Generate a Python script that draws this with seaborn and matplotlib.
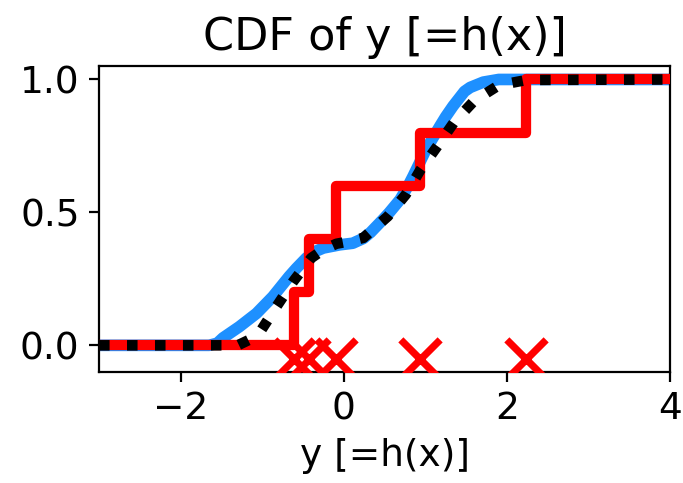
import matplotlib
matplotlib.use("Agg")
import matplotlib.pyplot as plt
import seaborn as sns

# Smooth CDF (blue)
blue_x = [-3.0, -1.65, -1.55, -1.48, -1.28, -1.07, -0.87, -0.67, -0.58, -0.46, -0.35,
          -0.25, -0.05, 0.11, 0.24, 0.33, 0.48, 0.56, 0.69, 0.79, 0.85, 1.01, 1.18,
          1.25, 1.34, 1.48, 1.55, 1.71, 1.9, 4.0]
blue_y = [0.0, 0.0, 0.008, 0.028, 0.07, 0.12, 0.183, 0.259, 0.29, 0.328, 0.353,
          0.366, 0.378, 0.384, 0.402, 0.425, 0.473, 0.50, 0.548, 0.60, 0.636, 0.737, 0.825,
          0.86, 0.90, 0.955, 0.97, 0.99, 1.0, 1.0]

# Reference CDF (black dotted)
black_x = [-3.0, -1.3, -1.15, -1.01, -0.82, -0.62, -0.40, -0.25, -0.09, 0.05, 0.24,
           0.54, 0.76, 0.94, 1.15, 1.35, 1.60, 1.90, 2.24, 4.0]
black_y = [0.0, 0.0, 0.022, 0.058, 0.148, 0.24, 0.328, 0.36, 0.382, 0.39, 0.404,
           0.485, 0.567, 0.66, 0.75, 0.838, 0.92, 0.978, 0.998, 1.0]

# Samples and empirical CDF (red)
samples = [-0.61, -0.43, -0.10, 0.94, 2.23]
ecdf_levels = [0.0, 0.2, 0.4, 0.6, 0.8, 1.0]
x_limits = [-3.0, 4.0]
marker_y = [-0.05, -0.05, -0.05, -0.05, -0.05]

title = "CDF of y [=h(x)]"
xlabel = "y [=h(x)]"
x_ticks = [-2, 0, 2, 4]
y_ticks = [0.0, 0.5, 1.0]

fig = plt.figure(figsize=(3.415, 2.415), dpi=200)
ax = fig.add_axes([0.145, 0.23, 0.836, 0.633])

sns.lineplot(x=blue_x, y=blue_y, ax=ax, color="#1E90FF", linewidth=4.2,
             sort=False, zorder=2)

step_x = [x_limits[0]] + samples + [x_limits[1]]
step_y = ecdf_levels + [ecdf_levels[-1]]
sns.lineplot(x=step_x, y=step_y, ax=ax, color="red", linewidth=3.7,
             drawstyle="steps-post", sort=False, zorder=3)

sns.scatterplot(x=samples, y=marker_y, ax=ax, marker="x", s=200, linewidth=2.6,
                color="red", zorder=4, clip_on=True)

sns.lineplot(x=black_x, y=black_y, ax=ax, color="black", linewidth=3.8,
             linestyle=":", sort=False, zorder=5)

ax.set_xlim(*x_limits)
ax.set_ylim(-0.1, 1.05)
ax.set_xticks(x_ticks)
ax.set_yticks(y_ticks)
ax.set_title(title, fontsize=16)
ax.set_xlabel(xlabel, fontsize=13.5)
ax.set_ylabel("")
ax.tick_params(labelsize=13.5)

fig.savefig("out.png", dpi=200)
